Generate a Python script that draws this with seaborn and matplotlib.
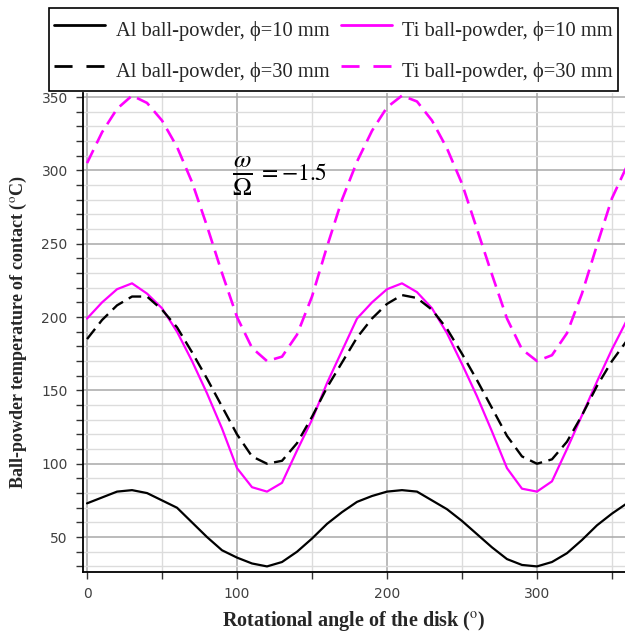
import numpy as np
import pandas as pd
import seaborn as sns
import matplotlib
matplotlib.use("Agg")
import matplotlib.pyplot as plt
from matplotlib.lines import Line2D
from matplotlib.ticker import MultipleLocator
from matplotlib.font_manager import FontProperties

# Rotational angle of the disk (degrees)
angle = list(range(0, 361, 10))

# Ball-powder contact temperature (deg C)
al_10mm = [73, 77, 81, 82, 80, 75, 70, 60, 50, 41, 36, 32, 30, 33, 40, 49, 59, 67, 74,
           78, 81, 82, 81, 75, 69, 61, 52, 43, 35, 31, 30, 33, 39, 48, 58, 66, 73]
ti_10mm = [199, 210, 219, 223, 216, 206, 190, 170, 148, 124, 97, 84, 81, 87, 109, 130, 155, 177, 199,
           210, 219, 223, 217, 206, 189, 168, 146, 122, 97, 83, 81, 88, 110, 133, 156, 178, 198]
al_30mm = [185, 198, 208, 214, 214, 205, 193, 176, 158, 139, 120, 105, 100, 102, 114, 132, 152, 169, 186,
           199, 209, 215, 213, 205, 192, 175, 157, 138, 119, 105, 100, 103, 115, 133, 153, 170, 184]
ti_30mm = [305, 326, 342, 351, 346, 334, 316, 292, 262, 230, 200, 179, 170, 173, 188, 214, 248, 280, 306,
           327, 343, 351, 347, 334, 315, 291, 260, 229, 199, 178, 170, 174, 189, 216, 249, 281, 303]

labels = ["Al ball-powder, ϕ=10 mm", "Ti ball-powder, ϕ=10 mm",
          "Al ball-powder, ϕ=30 mm", "Ti ball-powder, ϕ=30 mm"]

sns.set_theme(style="white")
plt.rcParams["mathtext.fontset"] = "stix"

fig = plt.figure(figsize=(6.25, 6.35), dpi=100)
ax = fig.add_axes([0.1328, 0.0997, 0.8672, 0.7539])

MAGENTA = "#ff00ff"
dash_plot = (0, (5.5, 2.8))

series = [
    (al_10mm, "black", "-", 1.6),
    (ti_10mm, MAGENTA, "-", 1.6),
    (al_30mm, "black", dash_plot, 1.7),
    (ti_30mm, MAGENTA, dash_plot, 1.9),
]
for vals, col, ls, lw in series:
    sns.lineplot(x=angle, y=vals, ax=ax, color=col, linestyle=ls, linewidth=lw,
                 legend=False, zorder=3)

ax.set_xlim(-2.7, 358.7)
ax.set_ylim(26.4, 352.8)

ax.xaxis.set_major_locator(MultipleLocator(100))
ax.xaxis.set_minor_locator(MultipleLocator(50))
ax.yaxis.set_major_locator(MultipleLocator(50))
ax.yaxis.set_minor_locator(MultipleLocator(10))

ax.grid(True, which="major", color="#a8a8a8", linewidth=1.1, zorder=0)
ax.grid(True, which="minor", color="#dcdcdc", linewidth=1.0, zorder=0)
ax.set_axisbelow(True)

for side in ("top", "right"):
    ax.spines[side].set_visible(False)
for side in ("left", "bottom"):
    ax.spines[side].set_color("black")
    ax.spines[side].set_linewidth(1.3)

ax.tick_params(which="both", direction="out", length=5, width=1.0, color="#333333",
               left=True, bottom=True)
ax.tick_params(which="major", labelsize=10, labelcolor="#404040", pad=6)
ax.set_yticks([50, 100, 150, 200, 250, 300, 350])

serif = ["Liberation Serif", "DejaVu Serif"]
ax.set_xlabel("Rotational angle of the disk ($^{\\mathrm{o}}$)",
              fontproperties=FontProperties(family=serif, weight="bold", size=14.5),
              labelpad=6)
ax.set_ylabel("Ball-powder temperature of contact ($^{\\mathrm{o}}$C)",
              fontproperties=FontProperties(family=serif, weight="bold", size=13),
              labelpad=9)

# Speed ratio annotation: fraction and value
ax.text(103.5, 296.5, r"$\frac{\omega}{\Omega}$", fontsize=26, color="black",
        ha="center", va="center", zorder=4)
ax.text(114, 298.5, r"$= -1.5$", fontsize=17, color="black",
        ha="left", va="center", zorder=4)

# Legend with longer dashes in the handles
dash_leg = (0, (6.5, 5.0))
handles = [
    Line2D([], [], color="black", linestyle="-", linewidth=2.0),
    Line2D([], [], color="black", linestyle=dash_leg, linewidth=2.0),
    Line2D([], [], color=MAGENTA, linestyle="-", linewidth=2.0),
    Line2D([], [], color=MAGENTA, linestyle=dash_leg, linewidth=2.0),
]
leg_labels = [labels[0], labels[2], labels[1], labels[3]]
leg = fig.legend(handles, leg_labels, ncol=2, loc="center",
                 bbox_to_anchor=(0.5336, 0.9213),
                 prop=FontProperties(family=serif, size=14.8),
                 frameon=True, fancybox=False, edgecolor="black", framealpha=1,
                 handlelength=2.5, handleheight=2.0, handletextpad=0.5,
                 columnspacing=0.55, labelspacing=0.45, borderpad=0.25)
leg.get_frame().set_linewidth(1.2)

fig.savefig("out.png", dpi=100)
